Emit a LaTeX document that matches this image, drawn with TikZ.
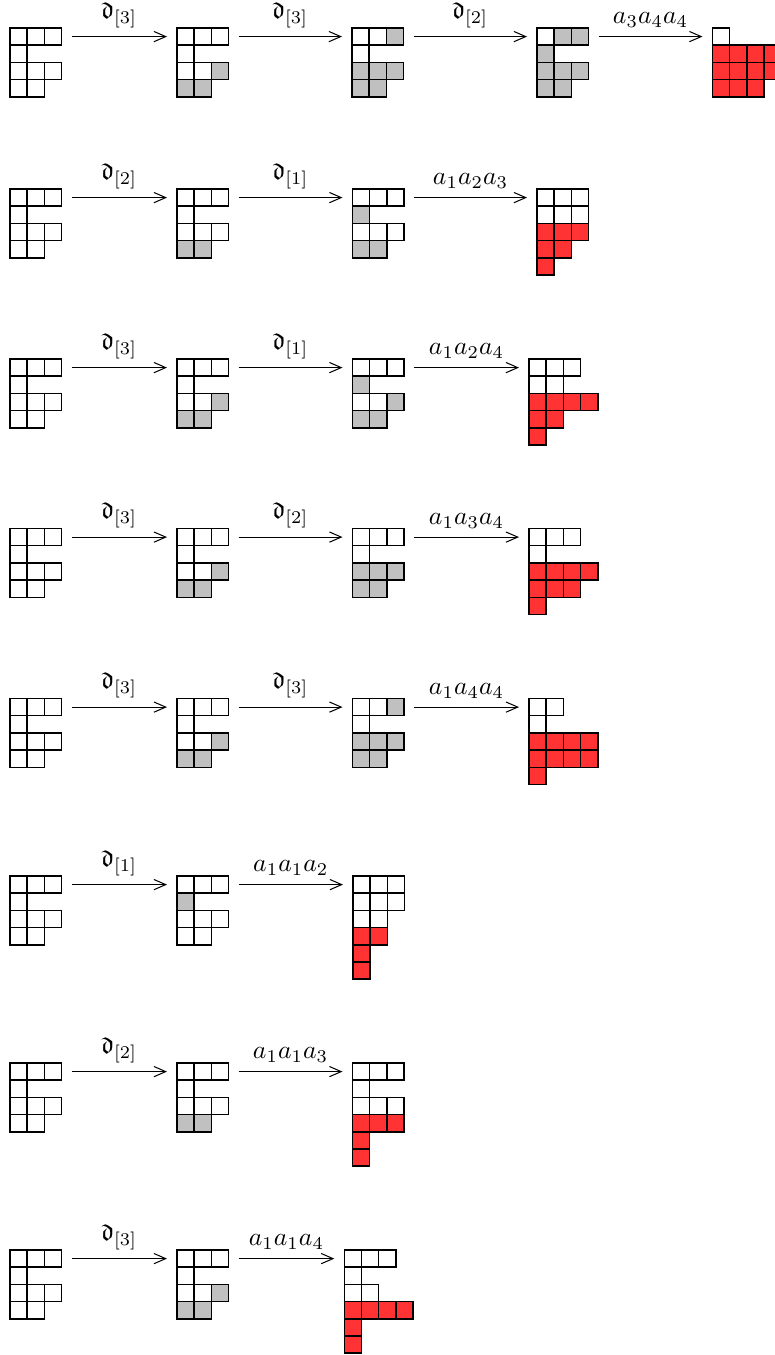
\documentclass[tikz,border=0pt]{standalone}
\usepackage{amssymb}
\usetikzlibrary{arrows.meta}
\definecolor{cW}{RGB}{255,255,255}
\definecolor{cG}{RGB}{192,192,192}
\definecolor{cR}{RGB}{255,51,51}
\newcommand\yd[4]{%
  \foreach \row [count=\i] in {#4} {%
    \foreach \c [count=\j] in \row {%
      \node[cell,fill=c\c] (#1-\i-\j) at ({#2+\j*17.2-8.6},{#3+\i*17.2-8.6}) {};
    }%
  }%
  \foreach \row [count=\i] in {#4} {%
    \foreach \c [count=\j] in \row {%
      \draw[cellline] (#1-\i-\j.south west) rectangle (#1-\i-\j.north east);
    }%
  }%
}
\begin{document}
\begin{tikzpicture}[x=0.39pt,y=-0.39pt,
  cell/.style={minimum size=6.708pt,inner sep=0pt,outer sep=0pt},
  cellline/.style={draw=black,line width=0.6pt},
  arr/.style={-{Straight Barb[length=4.6pt,width=4pt]},line width=0.4pt,shorten <=3.9pt,shorten >=3.9pt},
  lab/.style={above}]
\useasboundingbox (0,0) rectangle (774,1355);
% Row 1
\yd{ra}{10}{28}{{W,W,W},{W},{W,W,W},{W,W}}
\yd{rb}{177}{28}{{W,W,W},{W},{W,W,G},{G,G}}
\yd{rc}{352}{28}{{W,W,G},{W},{G,G,G},{G,G}}
\yd{rd}{537}{28}{{W,G,G},{G},{G,G,G},{G,G}}
\yd{re}{712.5}{28}{{W},{R,R,R,R},{R,R,R,R},{R,R,R}}
\draw[arr] (ra-1-3.east) -- node[lab]{$\mathfrak{d}_{[3]}$} (rb-1-1.west);
\draw[arr] (rb-1-3.east) -- node[lab]{$\mathfrak{d}_{[3]}$} (rc-1-1.west);
\draw[arr] (rc-1-3.east) -- node[lab]{$\mathfrak{d}_{[2]}$} (rd-1-1.west);
\draw[arr] (rd-1-3.east) -- node[lab]{$a_3a_4a_4$} (re-1-1.west);
% Row 2
\yd{sa}{10}{189}{{W,W,W},{W},{W,W,W},{W,W}}
\yd{sb}{177}{189}{{W,W,W},{W},{W,W,W},{G,G}}
\yd{sc}{352.5}{189}{{W,W,W},{G},{W,W,W},{G,G}}
\yd{sd}{537}{189}{{W,W,W},{W,W,W},{R,R,R},{R,R},{R}}
\draw[arr] (sa-1-3.east) -- node[lab]{$\mathfrak{d}_{[2]}$} (sb-1-1.west);
\draw[arr] (sb-1-3.east) -- node[lab]{$\mathfrak{d}_{[1]}$} (sc-1-1.west);
\draw[arr] (sc-1-3.east) -- node[lab]{$a_1a_2a_3$} (sd-1-1.west);
% Row 3
\yd{ta}{10}{359}{{W,W,W},{W},{W,W,W},{W,W}}
\yd{tb}{177}{359}{{W,W,W},{W},{W,W,G},{G,G}}
\yd{tc}{352.5}{359}{{W,W,W},{G},{W,W,G},{G,G}}
\yd{td}{529}{359}{{W,W,W},{W,W},{R,R,R,R},{R,R},{R}}
\draw[arr] (ta-1-3.east) -- node[lab]{$\mathfrak{d}_{[3]}$} (tb-1-1.west);
\draw[arr] (tb-1-3.east) -- node[lab]{$\mathfrak{d}_{[1]}$} (tc-1-1.west);
\draw[arr] (tc-1-3.east) -- node[lab]{$a_1a_2a_4$} (td-1-1.west);
% Row 4
\yd{ua}{10}{528.5}{{W,W,W},{W},{W,W,W},{W,W}}
\yd{ub}{177}{528.5}{{W,W,W},{W},{W,W,G},{G,G}}
\yd{uc}{352.5}{528.5}{{W,W,W},{W},{G,G,G},{G,G}}
\yd{ud}{529}{528.5}{{W,W,W},{W},{R,R,R,R},{R,R,R},{R}}
\draw[arr] (ua-1-3.east) -- node[lab]{$\mathfrak{d}_{[3]}$} (ub-1-1.west);
\draw[arr] (ub-1-3.east) -- node[lab]{$\mathfrak{d}_{[2]}$} (uc-1-1.west);
\draw[arr] (uc-1-3.east) -- node[lab]{$a_1a_3a_4$} (ud-1-1.west);
% Row 5
\yd{va}{10}{698.5}{{W,W,W},{W},{W,W,W},{W,W}}
\yd{vb}{177}{698.5}{{W,W,W},{W},{W,W,G},{G,G}}
\yd{vc}{352.5}{698.5}{{W,W,G},{W},{G,G,G},{G,G}}
\yd{vd}{529}{698.5}{{W,W},{W},{R,R,R,R},{R,R,R,R},{R}}
\draw[arr] (va-1-3.east) -- node[lab]{$\mathfrak{d}_{[3]}$} (vb-1-1.west);
\draw[arr] (vb-1-3.east) -- node[lab]{$\mathfrak{d}_{[3]}$} (vc-1-1.west);
\draw[arr] (vc-1-3.east) -- node[lab]{$a_1a_4a_4$} (vd-1-1.west);
% Row 6
\yd{wa}{10}{876}{{W,W,W},{W},{W,W,W},{W,W}}
\yd{wb}{177}{876}{{W,W,W},{G},{W,W,W},{W,W}}
\yd{wc}{353}{876}{{W,W,W},{W,W,W},{W,W},{R,R},{R},{R}}
\draw[arr] (wa-1-3.east) -- node[lab]{$\mathfrak{d}_{[1]}$} (wb-1-1.west);
\draw[arr] (wb-1-3.east) -- node[lab]{$a_1a_1a_2$} (wc-1-1.west);
% Row 7
\yd{xa}{10}{1063}{{W,W,W},{W},{W,W,W},{W,W}}
\yd{xb}{177}{1063}{{W,W,W},{W},{W,W,W},{G,G}}
\yd{xc}{352.5}{1063}{{W,W,W},{W},{W,W,W},{R,R,R},{R},{R}}
\draw[arr] (xa-1-3.east) -- node[lab]{$\mathfrak{d}_{[2]}$} (xb-1-1.west);
\draw[arr] (xb-1-3.east) -- node[lab]{$a_1a_1a_3$} (xc-1-1.west);
% Row 8
\yd{ya}{10}{1250}{{W,W,W},{W},{W,W,W},{W,W}}
\yd{yb}{177}{1250}{{W,W,W},{W},{W,W,G},{G,G}}
\yd{yc}{344.3}{1250}{{W,W,W},{W},{W,W},{R,R,R,R},{R},{R}}
\draw[arr] (ya-1-3.east) -- node[lab]{$\mathfrak{d}_{[3]}$} (yb-1-1.west);
\draw[arr] (yb-1-3.east) -- node[lab]{$a_1a_1a_4$} (yc-1-1.west);
\end{tikzpicture}
\end{document}
